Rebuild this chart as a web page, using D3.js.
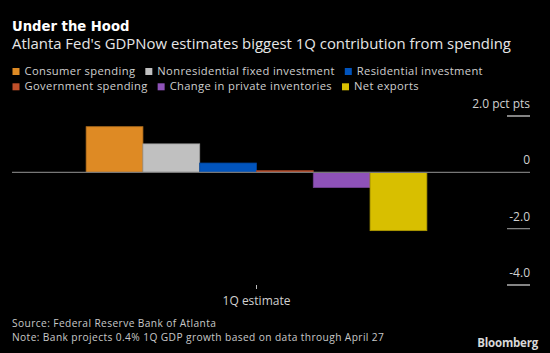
<!DOCTYPE html>
<html>
<head>
<meta charset="utf-8">
<script src="https://cdn.jsdelivr.net/npm/d3@7"></script>
<style>
  body { margin: 0; background: #000; }
  svg { display: block; font-family: "Open Sans", sans-serif; }
</style>
</head>
<body>
<svg id="chart" width="550" height="353"></svg>
<script>
// data
var categories = ["1Q estimate"]
var seriesNames = ["Consumer spending", "Nonresidential fixed investment", "Residential investment",
    "Government spending", "Change in private inventories", "Net exports"]
var seriesValues = [1.62, 1.01, 0.33, 0.06, -0.54, -2.07]
var seriesColors = ["#de8a24", "#c0c0c0", "#0154bd", "#c04f2a", "#8e52b8", "#d8bf00"]
var yTicks = [2, 0, -2, -4]
var yTickLabels = ["2.0 pct pts", "0", "-2.0", "-4.0"]

var svg = d3.select("#chart")
svg.append("rect").attr("width", 550).attr("height", 353).attr("fill", "#000")

var width = 550, height = 353

// titles
svg.append("text").attr("x", 12).attr("y", 31)
    .attr("fill", "#fff").attr("font-size", 13.2).attr("font-weight", "bold")
    .attr("font-family", "DejaVu Sans")
    .text("Under the Hood")
svg.append("text").attr("x", 12).attr("y", 49)
    .attr("fill", "#e6e6e6").attr("font-size", 14.9)
    .text("Atlanta Fed's GDPNow estimates biggest 1Q contribution from spending")

// legend, simple flow layout
var lx = 12.5, ly = 75, rowH = 15.3
var legend = svg.append("g")
seriesNames.forEach(function (name, i) {
    var g = legend.append("g")
    var t = g.append("text").attr("x", 12).attr("y", 0)
        .attr("fill", "#cfcfcf").attr("font-size", 11.2).attr("letter-spacing", 0.35).text(name)
    var w = 12 + t.node().getComputedTextLength()
    if (lx + w > width - 40) { lx = 12.5; ly += rowH }
    g.attr("transform", "translate(" + lx + "," + ly + ")")
    g.append("rect").attr("x", 0).attr("y", -7).attr("width", 7).attr("height", 7)
        .attr("fill", seriesColors[i])
    lx += w + 10
})

// scales
var y = d3.scaleLinear().domain([-4, 2]).range([285, 116])
var x0 = d3.scaleBand().domain(categories).range([12, 501]).paddingOuter(0.2176)
var x1 = d3.scaleBand().domain(seriesNames).range([0, x0.bandwidth()])

// y ticks on the right
var axisRight = 530
yTicks.forEach(function (v, i) {
    if (v !== 0) {
        svg.append("line").attr("x1", axisRight - 23).attr("x2", axisRight)
            .attr("y1", y(v)).attr("y2", y(v))
            .attr("stroke", v === -2 ? "#8c8c8c" : "#dcdcdc").attr("stroke-width", 1.2)
    }
    svg.append("text").attr("x", axisRight).attr("y", y(v) - 8)
        .attr("text-anchor", "end").attr("fill", "#d0d0d0").attr("font-size", 12)
        .text(yTickLabels[i])
})

// bars
var bars = svg.append("g").attr("transform", "translate(" + x0(categories[0]) + ",0)")
bars.selectAll("rect")
    .data(seriesValues)
    .enter()
    .append("rect")
    .attr("x", function (d, i) { return x1(seriesNames[i]) })
    .attr("y", function (d) { return y(Math.max(0, d)) })
    .attr("width", x1.bandwidth())
    .attr("height", function (d) { return Math.abs(y(d) - y(0)) })
    .attr("fill", function (d, i) { return seriesColors[i] })
    .attr("stroke", function (d, i) { return d3.color(seriesColors[i]).darker(0.6) })
    .attr("stroke-width", 0.8)

// zero line
svg.append("line").attr("x1", 12).attr("x2", axisRight)
    .attr("y1", y(0)).attr("y2", y(0))
    .attr("stroke", "#777").attr("stroke-width", 1.3)

// category axis
var cx = x0(categories[0]) + x0.bandwidth() / 2
svg.append("line").attr("x1", cx).attr("x2", cx).attr("y1", 285).attr("y2", 289)
    .attr("stroke", "#bbb")
svg.append("text").attr("x", cx).attr("y", 305).attr("text-anchor", "middle")
    .attr("fill", "#d0d0d0").attr("font-size", 12).text(categories[0])

// footer
svg.append("text").attr("x", 12).attr("y", 327).attr("fill", "#c8c8c8")
    .attr("font-size", 10.2).attr("letter-spacing", 0.4)
    .text("Source: Federal Reserve Bank of Atlanta")
svg.append("text").attr("x", 12).attr("y", 341).attr("fill", "#c8c8c8")
    .attr("font-size", 10.2).attr("letter-spacing", 0.4)
    .text("Note: Bank projects 0.4% 1Q GDP growth based on data through April 27")
svg.append("text").attr("x", 538).attr("y", 346.5).attr("text-anchor", "end")
    .attr("fill", "#d8d8d8").attr("font-size", 11.5).attr("font-weight", "bold")
    .attr("letter-spacing", -0.2).text("Bloomberg")
</script>
</body>
</html>
